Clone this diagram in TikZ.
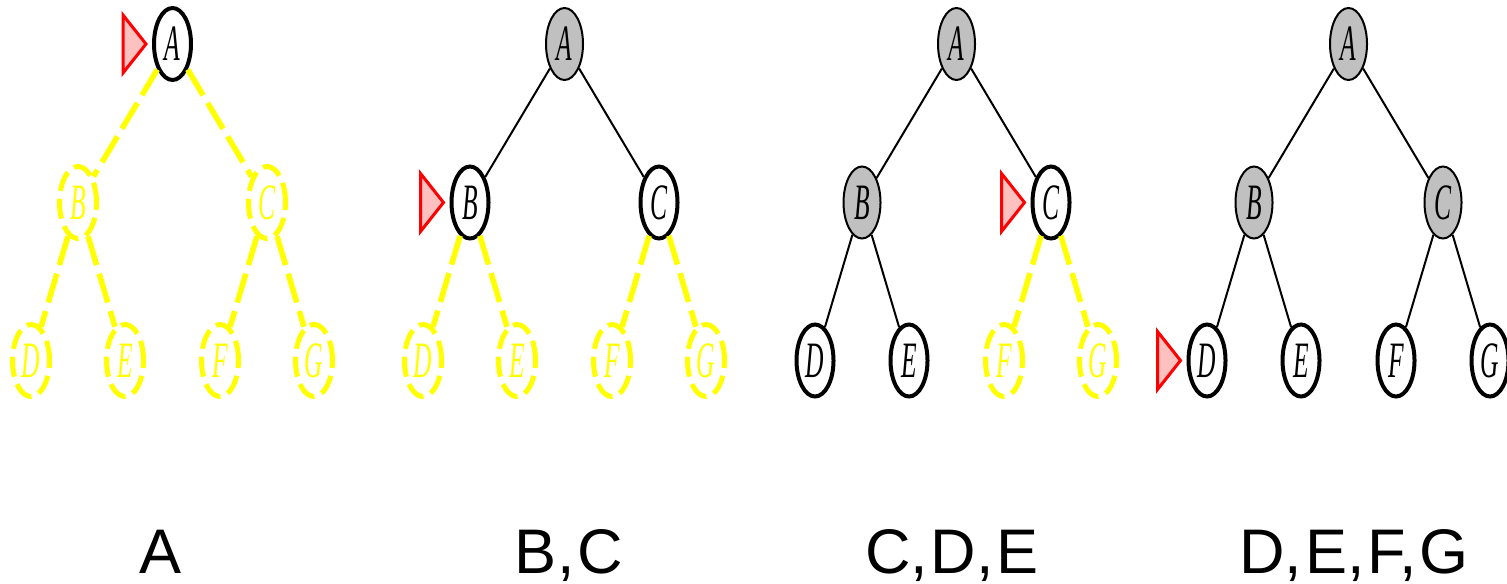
\documentclass[tikz,border=0pt]{standalone}
\usepackage{fontspec}
\setsansfont{Liberation Sans}
\newfontfamily\vertexfont{Liberation Serif}[FakeStretch=0.5]
\usepackage{tikz}
\usetikzlibrary{
    positioning,     % relative placement of the tree nodes
    shapes.geometric % ellipse nodes
}
\definecolor{unseencolor}{HTML}{FFFF00}
\definecolor{visitedcolor}{HTML}{C0C0C0}
\definecolor{pointerdraw}{HTML}{FF0000}
\definecolor{pointerfill}{HTML}{FFC0C0}

\begin{document}
\begin{tikzpicture}[x={(0.5pt,0)}, y={(0,-0.5pt)}, on grid]

    % --- Style Definitions ---
    \tikzset{
        % every vertex of the trees
        vertex/.style={
            ellipse,
            minimum width=18.5pt,
            minimum height=36pt,
            inner sep=0pt,
            font=\vertexfont\itshape\fontsize{25.5}{25.5}\selectfont
        },
        % already dequeued
        visited/.style={vertex, draw=black, line width=1pt, fill=visitedcolor},
        % discovered, waiting in the queue
        frontier/.style={vertex, draw=black, line width=2pt, fill=white},
        % not reached yet
        unseen/.style={vertex, draw=unseencolor, text=unseencolor,
            line width=2.5pt, dash pattern=on 10pt off 4pt},
        treeedge/.style={black, line width=1pt},
        openedge/.style={unseencolor, line width=2.8pt, dash pattern=on 15pt off 4.5pt},
        pointer/.style={draw=pointerdraw, fill=pointerfill, line width=1.5pt},
        queue/.style={font=\sffamily\fontsize{31.5}{36}\selectfont, anchor=base,
            inner sep=0pt}
    }

    \useasboundingbox (0,0) rectangle (1507,583);

    % --- Tree 1: queue A ---
    \node[frontier] (a1) at (172.5,44) {A};
    \node[unseen, below left=79.25pt and 47.25pt of a1] (b1) {B};
    \node[unseen, below right=79.25pt and 47.25pt of a1] (c1) {C};
    \node[unseen, below left=79pt and 23.5pt of b1] (d1) {D};
    \node[unseen, below right=79pt and 23.5pt of b1] (e1) {E};
    \node[unseen, below left=79pt and 23.5pt of c1] (f1) {F};
    \node[unseen, below right=79pt and 23.5pt of c1] (g1) {G};
    \draw[openedge] (a1) -- (b1);
    \draw[openedge] (a1) -- (c1);
    \draw[openedge] (b1) -- (d1);
    \draw[openedge] (b1) -- (e1);
    \draw[openedge] (c1) -- (f1);
    \draw[openedge] (c1) -- (g1);
    \draw[pointer] (a1.west) ++(-3pt,0) -- ++(-11.5pt,14.5pt) -- ++(0,-29pt) -- cycle;

    % --- Tree 2: queue B,C ---
    \node[visited] (a2) at (564.5,44) {A};
    \node[frontier, below left=79.25pt and 47.25pt of a2] (b2) {B};
    \node[frontier, below right=79.25pt and 47.25pt of a2] (c2) {C};
    \node[unseen, below left=79pt and 23.5pt of b2] (d2) {D};
    \node[unseen, below right=79pt and 23.5pt of b2] (e2) {E};
    \node[unseen, below left=79pt and 23.5pt of c2] (f2) {F};
    \node[unseen, below right=79pt and 23.5pt of c2] (g2) {G};
    \draw[treeedge] (a2) -- (b2);
    \draw[treeedge] (a2) -- (c2);
    \draw[openedge] (b2) -- (d2);
    \draw[openedge] (b2) -- (e2);
    \draw[openedge] (c2) -- (f2);
    \draw[openedge] (c2) -- (g2);
    \draw[pointer] (b2.west) ++(-3pt,0) -- ++(-11.5pt,14.5pt) -- ++(0,-29pt) -- cycle;

    % --- Tree 3: queue C,D,E ---
    \node[visited] (a3) at (956.5,44) {A};
    \node[visited, below left=79.25pt and 47.25pt of a3] (b3) {B};
    \node[frontier, below right=79.25pt and 47.25pt of a3] (c3) {C};
    \node[frontier, below left=79pt and 23.5pt of b3] (d3) {D};
    \node[frontier, below right=79pt and 23.5pt of b3] (e3) {E};
    \node[unseen, below left=79pt and 23.5pt of c3] (f3) {F};
    \node[unseen, below right=79pt and 23.5pt of c3] (g3) {G};
    \draw[treeedge] (a3) -- (b3);
    \draw[treeedge] (a3) -- (c3);
    \draw[treeedge] (b3) -- (d3);
    \draw[treeedge] (b3) -- (e3);
    \draw[openedge] (c3) -- (f3);
    \draw[openedge] (c3) -- (g3);
    \draw[pointer] (c3.west) ++(-3pt,0) -- ++(-11.5pt,14.5pt) -- ++(0,-29pt) -- cycle;

    % --- Tree 4: queue D,E,F,G ---
    \node[visited] (a4) at (1348.5,44) {A};
    \node[visited, below left=79.25pt and 47.25pt of a4] (b4) {B};
    \node[visited, below right=79.25pt and 47.25pt of a4] (c4) {C};
    \node[frontier, below left=79pt and 23.5pt of b4] (d4) {D};
    \node[frontier, below right=79pt and 23.5pt of b4] (e4) {E};
    \node[frontier, below left=79pt and 23.5pt of c4] (f4) {F};
    \node[frontier, below right=79pt and 23.5pt of c4] (g4) {G};
    \draw[treeedge] (a4) -- (b4);
    \draw[treeedge] (a4) -- (c4);
    \draw[treeedge] (b4) -- (d4);
    \draw[treeedge] (b4) -- (e4);
    \draw[treeedge] (c4) -- (f4);
    \draw[treeedge] (c4) -- (g4);
    \draw[pointer] (d4.west) ++(-3pt,0) -- ++(-11.5pt,14.5pt) -- ++(0,-29pt) -- cycle;

    % --- Queue contents under each tree ---
    \node[queue] (q1) at (161,573) {A};
    \node[queue] (q2) at (569,573) {B,\kern1.5pt C};
    \node[queue] (q3) at (952,573) {C,\kern1.5pt D,\kern1.5pt E};
    \node[queue] (q4) at (1354,573) {D,\kern1.5pt E,\kern1.5pt F,\kern1.5pt G};

\end{tikzpicture}
\end{document}
